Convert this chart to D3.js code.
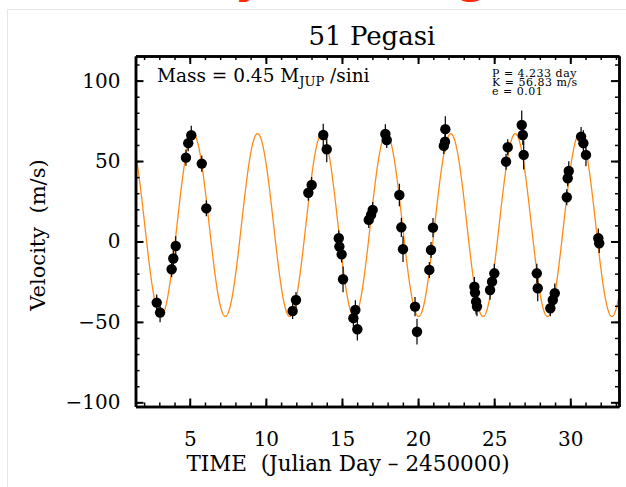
<!DOCTYPE html>
<html>
<head>
<meta charset="utf-8">
<script src="https://cdn.jsdelivr.net/npm/d3@7"></script>
<style>
body { margin: 0; background: #fff; }
svg { display: block; }
.axis text { font-family: "DejaVu Serif", serif; font-size: 20px; fill: #000; }
.axis .domain { stroke: #000; stroke-width: 2.5; }
.axis line { stroke: #000; }
</style>
</head>
<body>
<div id="chart"></div>
<script>
// Radial velocity measurements (JD - 2450000, m/s)
var times = [2.83, 3.05, 3.81, 3.92, 4.08, 4.75, 4.90, 5.10, 5.79, 6.09,
    11.76, 11.98, 12.79, 13.01, 13.77, 14.00, 14.79, 14.83, 14.98, 15.07,
    15.88, 15.75, 16.01, 16.76, 16.91, 17.02, 17.85, 17.94, 18.77, 18.90,
    19.01, 19.80, 19.93, 20.74, 20.85, 20.98, 21.69, 21.77, 21.79,
    23.74, 23.81, 23.87, 23.70, 24.73, 24.86, 25.01, 25.78, 25.89,
    26.81, 26.88, 26.94, 27.80, 27.86, 28.69, 28.85, 28.98,
    29.77, 29.83, 29.90, 30.71, 30.86, 31.03, 31.84, 31.90];
var velocities = [-38.0, -44.2, -17.3, -10.6, -2.8, 52.1, 61.1, 66.0, 48.4, 20.6,
    -43.2, -36.4, 30.3, 35.1, 66.2, 57.3, 2.0, -3.2, -8.0, -23.5,
    -42.6, -47.7, -54.6, 13.4, 16.5, 19.6, 66.8, 63.1, 28.9, 8.8,
    -4.8, -40.5, -56.1, -17.7, -5.3, 8.6, 59.4, 62.0, 69.8,
    -31.8, -37.4, -40.5, -28.1, -30.2, -25.0, -19.8, 49.6, 58.6,
    72.4, 66.2, 53.8, -19.8, -29.1, -41.5, -36.4, -32.2,
    27.5, 39.3, 43.8, 65.2, 61.1, 53.8, 2.0, -1.1];
var errors = [5, 6, 5, 5, 6, 5, 5, 6, 5, 5,
    5, 5, 5, 5, 7, 8, 5, 5, 5, 8,
    6, 5, 7, 5, 5, 5, 6, 5, 7, 6,
    8, 6, 8, 5, 5, 6, 5, 6, 8,
    6, 8, 6, 6, 6, 6, 6, 5, 5,
    9, 6, 9, 6, 8, 5, 5, 6,
    5, 5, 6, 6, 8, 7, 6, 6];

var xTicks = [5, 10, 15, 20, 25, 30];
var yTicks = [-100, -50, 0, 50, 100];

// orbit fit
var period = 4.233, semiAmp = 56.83, ecc = 0.01, gammaVel = 10.2, tPeak = 5.22;

var margin = {top: 56, right: 7, bottom: 80.5, left: 135.5},
    width = 626 - margin.left - margin.right,
    height = 487 - margin.top - margin.bottom;

var x = d3.scaleLinear().domain([1.436, 33.2]).range([0, width]);
var y = d3.scaleLinear().domain([-102.6, 115.3]).range([height, 0]);

var svgRoot = d3.select("#chart").append("svg")
    .attr("width", 626)
    .attr("height", 487);

// faint slide border
svgRoot.append("path")
    .attr("d", "M7.5,487V9.5H626")
    .attr("fill", "none")
    .attr("stroke", "#e6e6e6");

// heading cut off at the top of the slide
svgRoot.append("text")
    .attr("x", 612)
    .attr("y", -7)
    .attr("text-anchor", "end")
    .style("font-family", "DejaVu Sans, sans-serif")
    .style("font-weight", "bold")
    .style("font-size", "44px")
    .attr("fill", "#ff2a00")
    .text("Radial Velocity Tracking (RV)");

svgRoot.append("text")
    .attr("x", 372)
    .attr("y", 45)
    .attr("text-anchor", "middle")
    .style("font-family", "DejaVu Serif, serif")
    .style("font-size", "26px")
    .text("51 Pegasi");

var svg = svgRoot.append("g")
    .attr("transform", "translate(" + margin.left + "," + margin.top + ")");

svg.append("clipPath").attr("id", "plotClip")
    .append("rect").attr("width", width).attr("height", height);

// model curve
var curveTimes = d3.range(x.domain()[0], x.domain()[1] + 0.01, 0.01);
var model = curveTimes.map(function(t) {
    return {t: t, v: gammaVel + semiAmp * Math.cos(2 * Math.PI * (t - tPeak) / period)};
});
svg.append("path")
    .datum(model)
    .attr("clip-path", "url(#plotClip)")
    .attr("fill", "none")
    .attr("stroke", "#ff8a14")
    .attr("stroke-width", 1.3)
    .attr("d", d3.line()
        .x(function(d) { return x(d.t); })
        .y(function(d) { return y(d.v); }));

var data = times.map(function(t, i) {
    return {t: t, v: velocities[i], err: errors[i]};
});

// error bars
svg.selectAll(".errbar")
    .data(data)
    .enter().append("line")
        .attr("class", "errbar")
        .attr("x1", function(d) { return x(d.t); })
        .attr("x2", function(d) { return x(d.t); })
        .attr("y1", function(d) { return y(d.v - d.err); })
        .attr("y2", function(d) { return y(d.v + d.err); })
        .attr("stroke", "#000")
        .attr("stroke-width", 1.2);

svg.selectAll(".dot")
    .data(data)
    .enter().append("circle")
        .attr("class", "dot")
        .attr("cx", function(d) { return x(d.t); })
        .attr("cy", function(d) { return y(d.v); })
        .attr("r", 5.2)
        .attr("fill", "#000");

// axes: minor and major ticks on all four sides, pointing inward
var minorX = d3.range(2, 34),
    minorY = d3.range(-100, 111, 10);

function addAxis(axis, tx, ty, size, width) {
    var g = svg.append("g")
        .attr("class", "axis")
        .attr("transform", "translate(" + tx + "," + ty + ")")
        .call(axis.tickSizeInner(-size).tickSizeOuter(0));
    g.selectAll("line").attr("stroke-width", width);
    return g;
}

addAxis(d3.axisBottom(x).tickValues(minorX).tickFormat(""), 0, height, 4, 1.5);
addAxis(d3.axisTop(x).tickValues(minorX).tickFormat(""), 0, 0, 4, 1.5);
addAxis(d3.axisLeft(y).tickValues(minorY).tickFormat(""), 0, 0, 4, 1.5);
addAxis(d3.axisRight(y).tickValues(minorY).tickFormat(""), width, 0, 4, 1.5);

addAxis(d3.axisBottom(x).tickValues(xTicks).tickPadding(25), 0, height, 8, 2);
addAxis(d3.axisTop(x).tickValues(xTicks).tickFormat(""), 0, 0, 8, 2);
addAxis(d3.axisLeft(y).tickValues(yTicks).tickPadding(15), 0, 0, 8, 2);
addAxis(d3.axisRight(y).tickValues(yTicks).tickFormat(""), width, 0, 8, 2);

// axis titles
svg.append("text")
    .attr("x", 348 - margin.left)
    .attr("y", 471 - margin.top)
    .attr("text-anchor", "middle")
    .style("font-family", "DejaVu Serif, serif")
    .style("font-size", "21.5px")
    .style("white-space", "pre")
    .text("TIME  (Julian Day \u2013 2450000)");

svg.append("text")
    .attr("transform", "translate(" + (45 - margin.left) + "," + (235 - margin.top) + ") rotate(-90)")
    .attr("text-anchor", "middle")
    .style("font-family", "DejaVu Serif, serif")
    .style("font-size", "21px")
    .style("white-space", "pre")
    .text("Velocity  (m/s)");

// annotations
var mass = svg.append("text")
    .attr("x", 157 - margin.left)
    .attr("y", 82 - margin.top)
    .style("font-family", "DejaVu Serif, serif")
    .style("font-size", "18.5px")
    .style("white-space", "pre");
mass.append("tspan").text("Mass = 0.45 M");
mass.append("tspan").attr("dy", 4).style("font-size", "13px").text("JUP");
mass.append("tspan").attr("dy", -4).text(" /sini");

var fitLines = ["P = " + period + " day", "K = " + semiAmp + " m/s", "e = " + ecc];
svg.selectAll(".fit")
    .data(fitLines)
    .enter().append("text")
        .attr("class", "fit")
        .attr("x", 492 - margin.left)
        .attr("y", function(d, i) { return 77 - margin.top + i * 9; })
        .style("font-family", "DejaVu Serif, serif")
        .style("font-size", "11px")
        .style("letter-spacing", "0.5px")
        .text(function(d) { return d; });
</script>
</body>
</html>
